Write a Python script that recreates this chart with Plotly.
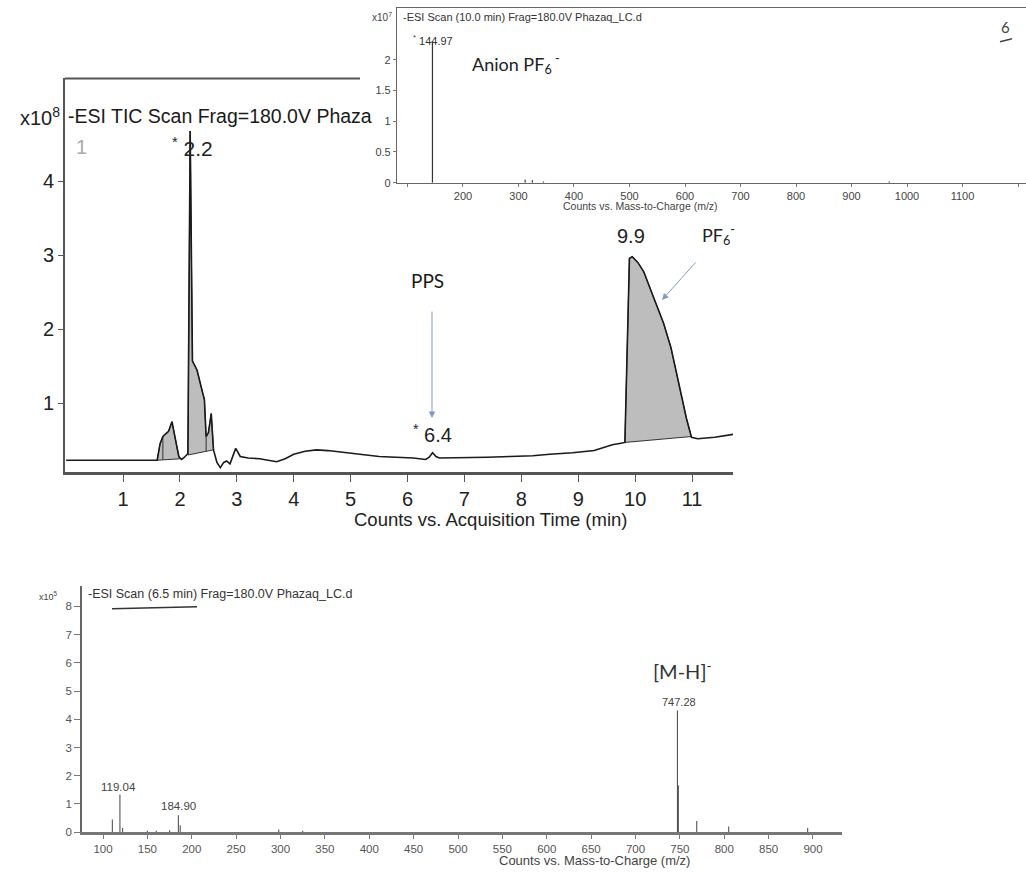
import numpy as np
import plotly.graph_objects as go

W, H = 1026, 873

# ---------------- Data ----------------
# Panel A: TIC chromatogram (time in min, counts x10^8)
tic_t = [0.0, 1.6, 1.65, 1.7, 1.74, 1.8, 1.86, 1.92, 1.98, 2.03, 2.08, 2.14, 2.18, 2.22, 2.3,
         2.38, 2.43, 2.46, 2.5, 2.55, 2.59, 2.65, 2.71, 2.77, 2.82, 2.88, 2.98, 3.06, 3.2,
         3.4, 3.55, 3.7, 3.85, 4.0, 4.2, 4.4, 4.6, 4.8, 5.0, 5.2, 5.5, 5.8, 6.1, 6.32,
         6.38, 6.44, 6.5, 6.56, 6.7, 7.0, 7.4, 7.8, 8.2, 8.5, 8.9, 9.28, 9.45, 9.6, 9.75,
         9.82, 9.9, 9.95, 10.05, 10.15, 10.33, 10.5, 10.63, 10.81, 10.9, 10.99, 11.1,
         11.4, 11.73]
tic_v = [0.23, 0.23, 0.45, 0.55, 0.58, 0.62, 0.75, 0.5, 0.28, 0.24, 0.27, 0.32, 4.68, 1.57,
         1.45, 1.2, 1.05, 0.55, 0.6, 0.86, 0.37, 0.2, 0.13, 0.2, 0.22, 0.18, 0.39, 0.28,
         0.26, 0.25, 0.23, 0.21, 0.25, 0.31, 0.35, 0.37, 0.36, 0.34, 0.32, 0.3, 0.28,
         0.27, 0.26, 0.24, 0.27, 0.33, 0.28, 0.26, 0.26, 0.26, 0.27, 0.28, 0.29, 0.31,
         0.33, 0.36, 0.4, 0.44, 0.46, 0.47, 2.96, 2.98, 2.9, 2.78, 2.42, 2.08, 1.75,
         1.12, 0.8, 0.54, 0.52, 0.54, 0.58]
# integrated peaks: start time, start baseline, end time, end baseline
peak_t0 = [1.6, 2.14, 9.82]
peak_b0 = [0.23, 0.30, 0.47]
peak_t1 = [2.03, 2.59, 10.99]
peak_b1 = [0.25, 0.37, 0.55]
drop_t = [1.7, 2.46]

# Panel B: mass spectrum at 10.0 min (counts x10^7)
specB_mz = [144.97, 312, 325, 345, 968]
specB_i = [2.30, 0.05, 0.04, 0.02, 0.02]
specB_ticks = [100, 200, 300, 400, 500, 600, 700, 800, 900, 1000, 1100, 1200]
specB_labels = ["", "200", "300", "400", "500", "600", "700", "800", "900", "1000", "1100", ""]

# Panel C: mass spectrum at 6.5 min (counts x10^5)
specC_mz = [110.5, 119.04, 122, 150, 160, 175, 184.90, 187, 298, 325, 747.28, 748.3, 769, 805, 894]
specC_i = [0.45, 1.34, 0.15, 0.05, 0.05, 0.07, 0.60, 0.25, 0.10, 0.05, 4.31, 1.66, 0.40, 0.20, 0.15]
specC_ticks = [100, 150, 200, 250, 300, 350, 400, 450, 500, 550, 600, 650, 700, 750, 800, 850, 900]


def P(x, y):
    return x / W, 1 - y / H


def sticks(mz, inten):
    xs, ys = [], []
    for m, v in zip(mz, inten):
        xs += [m, m, None]
        ys += [0, v, None]
    return xs, ys


fig = go.Figure()

# ---- Panel A traces ----
for t0, b0, t1, b1 in zip(peak_t0, peak_b0, peak_t1, peak_b1):
    xs = [t for t in tic_t if t0 <= t <= t1]
    ys = [v for t, v in zip(tic_t, tic_v) if t0 <= t <= t1]
    xs += [t1, t0, xs[0]]
    ys += [b1, b0, ys[0]]
    fig.add_trace(go.Scatter(x=xs, y=ys, fill="toself", fillcolor="#bdbdbd",
                             line=dict(color="#333333", width=1), mode="lines",
                             xaxis="x", yaxis="y", hoverinfo="skip"))
dx, dy = [], []
for t in drop_t:
    v = float(np.interp(t, tic_t, tic_v))
    for t0, b0, t1, b1 in zip(peak_t0, peak_b0, peak_t1, peak_b1):
        if t0 <= t <= t1:
            b = b0 + (b1 - b0) * (t - t0) / (t1 - t0)
            dx += [t, t, None]
            dy += [b, v, None]
fig.add_trace(go.Scatter(x=dx, y=dy, mode="lines", line=dict(color="#333333", width=1),
                         xaxis="x", yaxis="y", hoverinfo="skip"))
fig.add_trace(go.Scatter(x=tic_t, y=tic_v, mode="lines",
                         line=dict(color="#1a1a1a", width=1.6),
                         xaxis="x", yaxis="y"))

# ---- Panel B ----
bx, by = sticks(specB_mz, specB_i)
fig.add_trace(go.Scatter(x=bx, y=by, mode="lines", line=dict(color="#333333", width=1.2),
                         xaxis="x2", yaxis="y2"))

# ---- Panel C ----
cx, cy = sticks(specC_mz, specC_i)
fig.add_trace(go.Scatter(x=cx, y=cy, mode="lines", line=dict(color="#555555", width=1.1),
                         xaxis="x3", yaxis="y3"))

SANS = "Liberation Sans, Arial, sans-serif"
CAL = "Lato, Open Sans, sans-serif"

fig.update_layout(
    width=W, height=H, autosize=False,
    margin=dict(l=0, r=0, t=0, b=0),
    paper_bgcolor="white", plot_bgcolor="rgba(0,0,0,0)",
    showlegend=False,
    xaxis=dict(domain=[65 / W, 733 / W], range=[-0.02, 11.72], tickvals=list(range(1, 12)),
               ticks="outside", ticklen=7, tickcolor="#555", showline=True,
               linecolor="#555", linewidth=3, showgrid=False, zeroline=False,
               tickfont=dict(family=SANS, size=20, color="#222"), anchor="y"),
    yaxis=dict(domain=[1 - 475 / H, 1 - 79 / H], range=[0.074, 5.39], tickvals=[1, 2, 3, 4],
               ticks="outside", ticklen=5, tickcolor="#555", showline=True,
               linecolor="#555", linewidth=2, showgrid=False, zeroline=False,
               tickfont=dict(family=SANS, size=20, color="#222"), anchor="x"),
    xaxis2=dict(domain=[397 / W, 1.0], range=[81.1, 1214.4], tickvals=specB_ticks,
                ticktext=specB_labels, ticks="outside", ticklen=3, tickcolor="#777",
                showline=True, linecolor="#666", linewidth=1.2, mirror=True,
                showgrid=False, zeroline=False,
                tickfont=dict(family=SANS, size=11, color="#444"), anchor="y2"),
    yaxis2=dict(domain=[1 - 184 / H, 1 - 8 / H], range=[0, 2.84], tickvals=[0, 0.5, 1, 1.5, 2],
                ticktext=["0", "0.5", "1", "1.5", "2"], ticks="outside", ticklen=3,
                tickcolor="#777", showline=True, linecolor="#666", linewidth=1.2,
                showgrid=False, zeroline=False,
                tickfont=dict(family=SANS, size=11, color="#444"), anchor="x2"),
    xaxis3=dict(domain=[82 / W, 842 / W], range=[76.3, 932.7], tickvals=specC_ticks,
                ticks="outside", ticklen=4, tickcolor="#777", showline=True,
                linecolor="#777", linewidth=3, showgrid=False, zeroline=False,
                tickfont=dict(family=SANS, size=11.5, color="#555"), anchor="y3"),
    yaxis3=dict(domain=[1 - 838 / H, 1 - 590 / H], range=[0, 8.72], tickvals=list(range(0, 9)),
                ticks="outside", ticklen=6, tickcolor="#777", showline=True,
                linecolor="#666", linewidth=1.5, showgrid=False, zeroline=False,
                tickfont=dict(family=SANS, size=11.5, color="#555"), anchor="x3"),
)

ann = []


def text(x, y, s, size, family=SANS, color="#222", xanchor="center"):
    px, py = P(x, y)
    ann.append(dict(x=px, y=py, xref="paper", yref="paper", text=s, showarrow=False,
                    xanchor=xanchor, yanchor="middle",
                    font=dict(family=family, size=size, color=color)))


def arrow(x0, y0, x1, y1, color="#7f9cc0"):
    hx, hy = P(x1, y1)
    ann.append(dict(x=hx, y=hy, xref="paper", yref="paper", text="", showarrow=True,
                    ax=x0 - x1, ay=y0 - y1, arrowhead=2, arrowsize=1.3,
                    arrowwidth=1, arrowcolor=color))


# Panel A texts
text(62, 117, "x10<sup>8</sup>", 20, xanchor="right")
text(66, 117, "-ESI TIC Scan Frag=180.0V Phaza", 19.5, xanchor="left", color="#1a1a1a")
text(74, 148, "1", 20, color="#aaaaaa", xanchor="left")
text(192, 148, "<sup>*</sup> 2.2", 21)
text(432, 436, "<sup>*</sup> 6.4", 20)
text(631, 238, "9.9", 20)
text(427, 282, "PPS", 19, family=CAL, color="#1a1a1a")
text(700, 237, "PF<sub>6</sub><sup>-</sup>", 18, family=CAL, xanchor="left")
text(490, 523, "Counts vs. Acquisition Time (min)", 18.5)
arrow(432, 313, 432, 421)
arrow(697, 263, 662, 302)

# Panel B texts
text(394, 17, "x10<sup>7</sup>", 10, color="#444", xanchor="right")
text(401, 17, "-ESI Scan (10.0 min) Frag=180.0V Phazaq_LC.d", 11,
     color="#333", xanchor="left")
text(433, 40, "<sup>*</sup> 144.97", 11, color="#333")
text(470, 64, "Anion PF<sub>6</sub><sup> -</sup>", 18, family=CAL, xanchor="left")
text(640, 207, "Counts vs. Mass-to-Charge (m/z)", 10.5, color="#444")
text(1005, 27, "6", 15, family=CAL, color="#444")

# Panel C texts
text(60, 600, "x10<sup>5</sup>", 9, color="#444", xanchor="right")
text(86, 598, "-ESI Scan (6.5 min) Frag=180.0V Phazaq_LC.d", 12.5,
     color="#333", xanchor="left")
text(118, 792, "119.04", 11.5, color="#444")
text(178, 812, "184.90", 11.5, color="#444")
text(679, 707, "747.28", 11, color="#444")
text(682, 675, "[M-H]<sup>-</sup>", 20, family=CAL, color="#333")
text(594, 866, "Counts vs. Mass-to-Charge (m/z)", 13, color="#444")

fig.update_layout(annotations=ann)

# frame line on top of panel A (hidden by inset to the right)
x0p, y0p = P(65, 79)
x1p, _ = P(360, 79)
ux0, uy0 = P(112, 613)
ux1, uy1 = P(197, 611)
hx0, hy0 = P(1000, 42)
hx1, hy1 = P(1012, 39)
fig.update_layout(shapes=[
    dict(type="line", xref="paper", yref="paper", x0=x0p, y0=y0p, x1=x1p, y1=y0p,
         line=dict(color="#555", width=2)),
    dict(type="line", xref="paper", yref="paper", x0=ux0, y0=uy0, x1=ux1, y1=uy1,
         line=dict(color="#333", width=1.5)),
    dict(type="line", xref="paper", yref="paper", x0=hx0, y0=hy0, x1=hx1, y1=hy1,
         line=dict(color="#444", width=1.5)),
])

fig.write_html("out.html")
